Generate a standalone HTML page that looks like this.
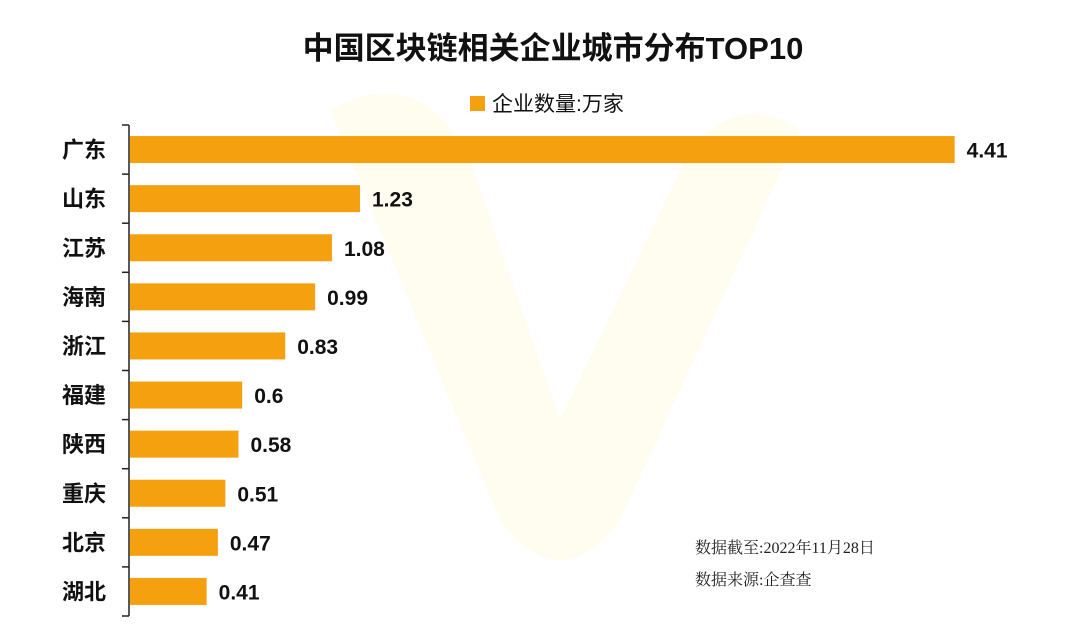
<!DOCTYPE html>
<html><head><meta charset="utf-8"><style>
body{margin:0;background:#fff;width:1080px;height:637px;overflow:hidden;font-family:"Liberation Sans","Noto Sans CJK SC",sans-serif}
</style></head><body>
<svg id="c" width="1080" height="637">
<path d="M330 110 Q420 60 470 160 L560 420 L690 150 Q740 90 800 130 L620 520 Q560 600 500 520 Z" fill="#fffcf0"/>
<text x="553" y="59" text-anchor="middle" font-size="31" font-weight="bold" fill="#111">中国区块链相关企业城市分布TOP10</text>
<rect x="470" y="96" width="15" height="15" fill="#f5a00f"/>
<text x="492" y="111" font-size="21" fill="#111">企业数量:万家</text>
<text x="695" y="553" font-size="16" fill="#222" font-family="Liberation Serif,Noto Serif CJK SC,serif">数据截至:2022年11月28日</text>
<text x="695" y="585" font-size="16" fill="#222" font-family="Liberation Serif,Noto Serif CJK SC,serif">数据来源:企查查</text>
<g id="plot"></g>
</svg>
<script>
const categories=["广东","山东","江苏","海南","浙江","福建","陕西","重庆","北京","湖北"];
const values=[4.41,1.23,1.08,0.99,0.83,0.6,0.58,0.51,0.47,0.41];
const valueLabels=["4.41","1.23","1.08","0.99","0.83","0.6","0.58","0.51","0.47","0.41"];
const NS="http://www.w3.org/2000/svg",g=document.getElementById('plot');
const x0=130,scale=187,top0=125,band=49.1;
const xf=v=>x0+v*scale, yf=i=>top0+i*band;
function mk(t,a){const e=document.createElementNS(NS,t);for(const k in a)e.setAttribute(k,a[k]);g.appendChild(e);return e;}
const ax=mk('line',{x1:129,x2:129,y1:top0,y2:yf(categories.length),stroke:'#222','stroke-width':1.5});


for(let i=0;i<=categories.length;i++){
 const t=mk('line',{x1:122,x2:129,y1:yf(i),y2:yf(i),stroke:'#222','stroke-width':1.5});
 
 
}
categories.forEach((c,i)=>{
 const yc=yf(i)+band/2;
 const b=mk('rect',{x:x0,y:yc-13.5,width:xf(values[i])-x0,height:27,fill:'#f5a00f'});
 
 
 const l=mk('text',{x:106,y:yc+8,'text-anchor':'end','font-size':22,'font-weight':'bold',fill:'#111'});
 l.textContent=c;
 
 
 const v=mk('text',{x:xf(values[i])+12,y:yc+8,'font-size':21,'font-weight':'bold',fill:'#111'});
 v.textContent=valueLabels[i];
 
 
});
</script>
</body></html>
